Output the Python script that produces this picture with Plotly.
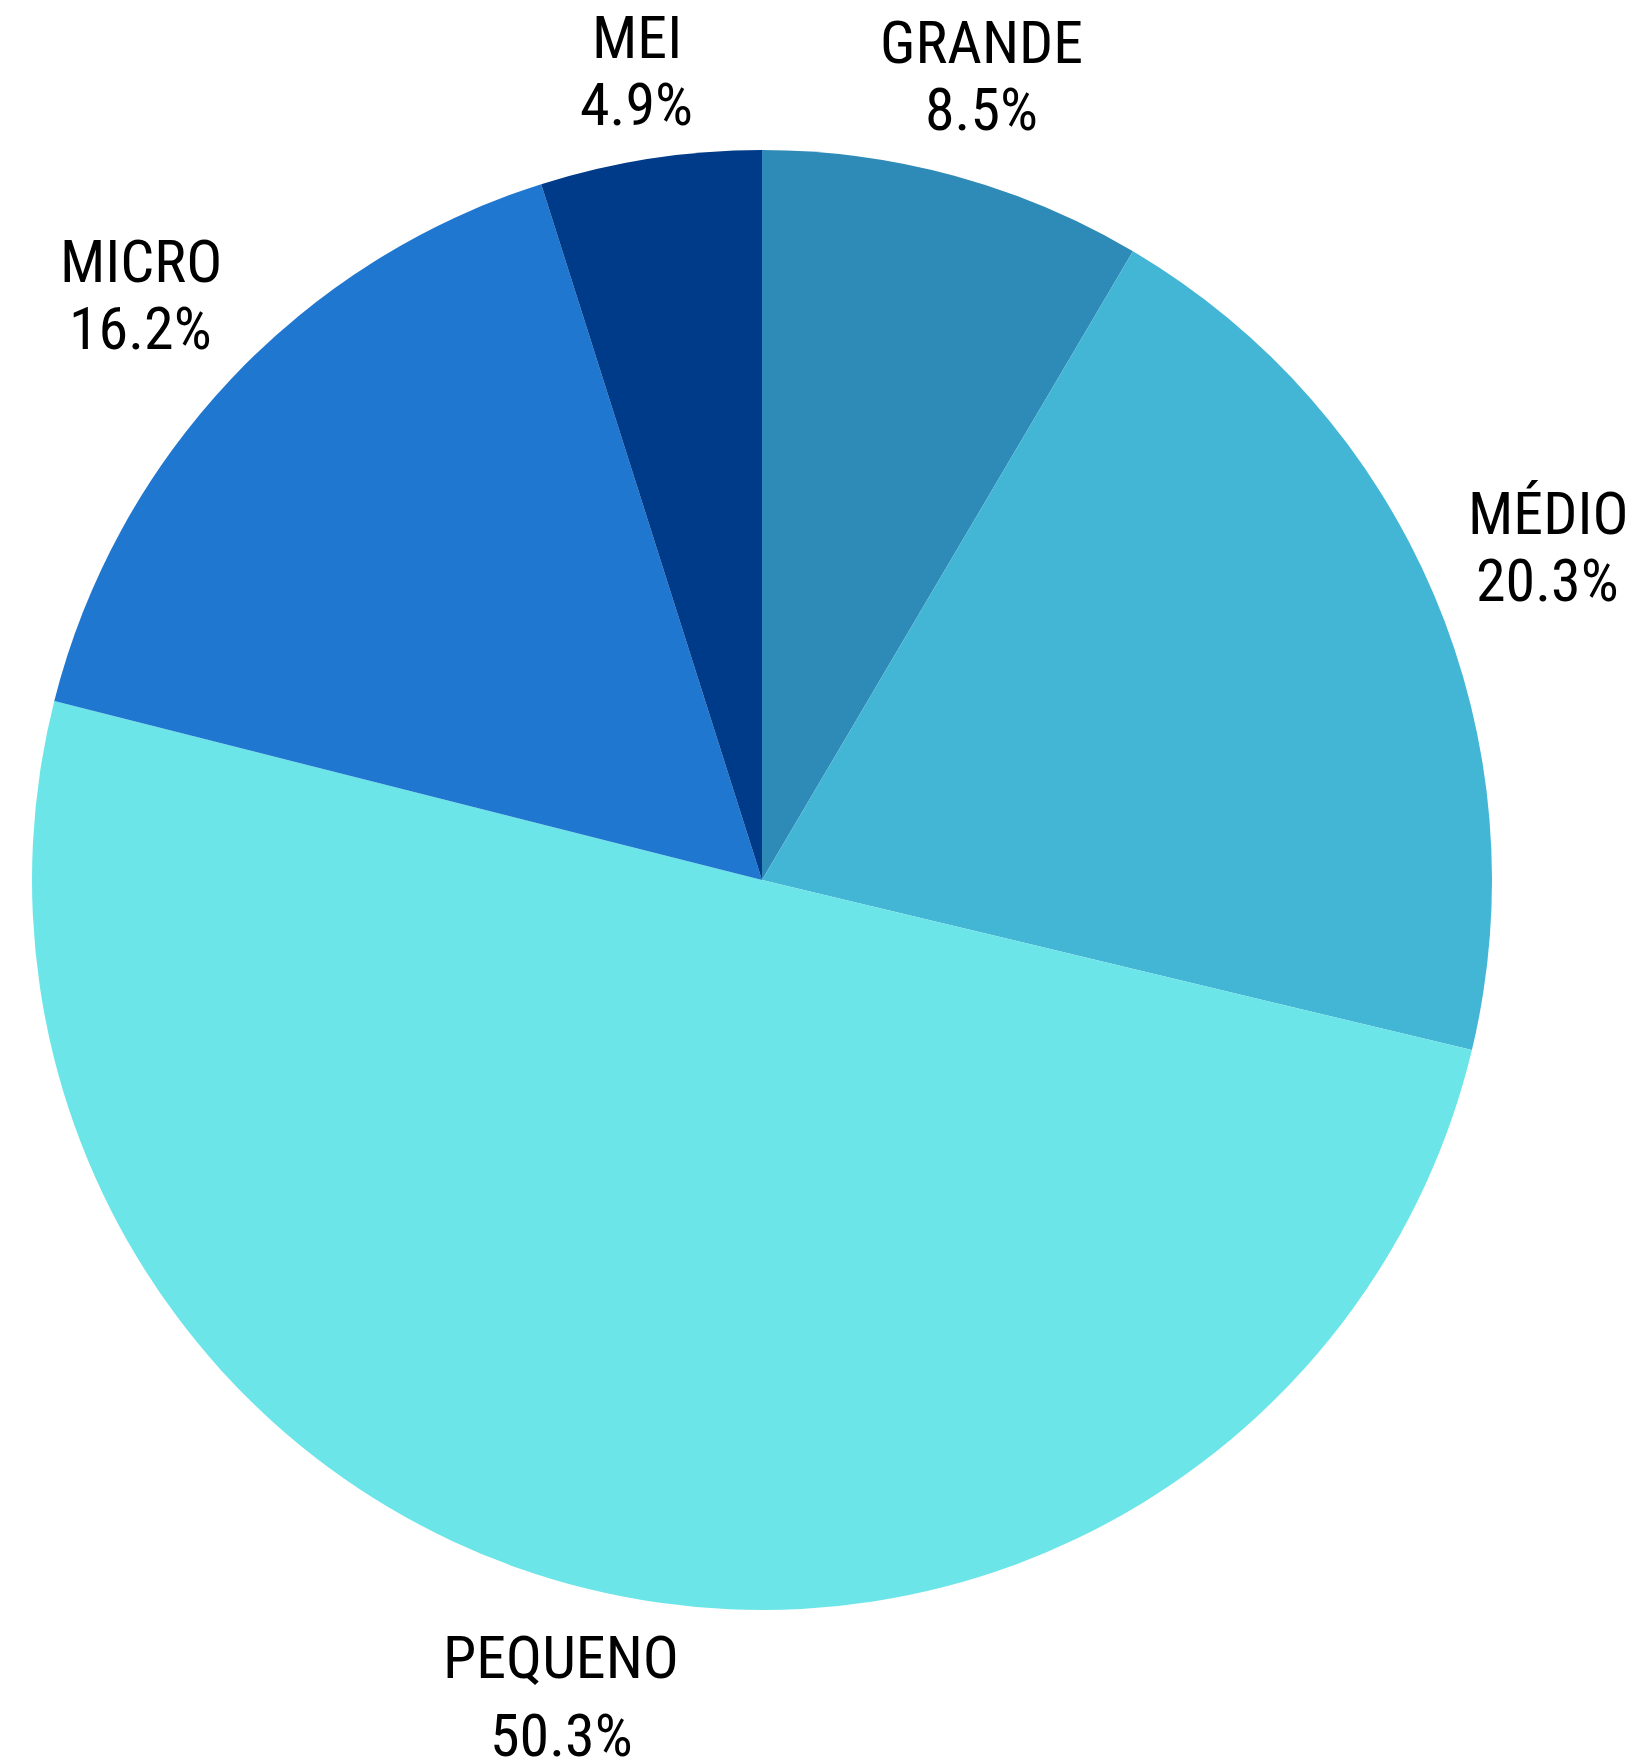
import math
import plotly.graph_objects as go

labels = ["GRANDE", "MÉDIO", "PEQUENO", "MICRO", "MEI"]
values = [8.5, 20.3, 50.3, 16.2, 4.9]
colors = ["#2E8BB8", "#43B6D5", "#6CE5E8", "#1F77D0", "#003B8A"]

# page has an 8px body margin; figure is sized/positioned to compensate
OFF = 8
W, H = 1644 - OFF, 1762 - OFF
cx, cy, r = 762 - OFF, 880 - OFF, 730

FONT = "Liberation Sans Narrow, Roboto Condensed, Noto Sans, sans-serif"
FS = 60
CHAR_W = 34      # approx. px per character at this size
LINE = 67        # px between the two text lines
CAP = 42         # cap height px
GAP = 24         # gap between pie edge and label box

fig = go.Figure(go.Pie(
    labels=labels,
    values=values,
    sort=False,
    direction="clockwise",
    rotation=0,
    marker=dict(colors=colors, line=dict(width=0)),
    textinfo="none",
    showlegend=False,
    hoverinfo="label+value",
    domain=dict(x=[(cx - r) / W, (cx + r) / W], y=[1 - (cy + r) / H, 1 - (cy - r) / H]),
))

total = sum(values)
cum = 0.0
annotations = []
for lab, v in zip(labels, values):
    theta = 2 * math.pi * (cum + v / 2) / total
    cum += v
    s, c = math.sin(theta), math.cos(theta)
    val_txt = f"{v:.1f}%"
    line = LINE + (11 if c < -0.5 else 0)
    w = CHAR_W * max(len(lab), len(val_txt))
    h = line + CAP
    d = r + GAP + abs(s) * w / 2 + abs(c) * h / 2
    px = cx + d * s
    py = cy - d * c
    for txt, dy in ((lab, -line / 2), (val_txt, line / 2)):
        annotations.append(dict(
            x=px / W, y=1 - (py + dy) / H, xref="paper", yref="paper",
            text=txt, showarrow=False, xanchor="center", yanchor="middle",
            font=dict(family=FONT, size=FS, color="#000000"),
        ))

fig.update_layout(
    width=W, height=H,
    margin=dict(l=0, r=0, t=0, b=0),
    paper_bgcolor="white",
    plot_bgcolor="white",
    annotations=annotations,
)

fig.write_html("out.html")
